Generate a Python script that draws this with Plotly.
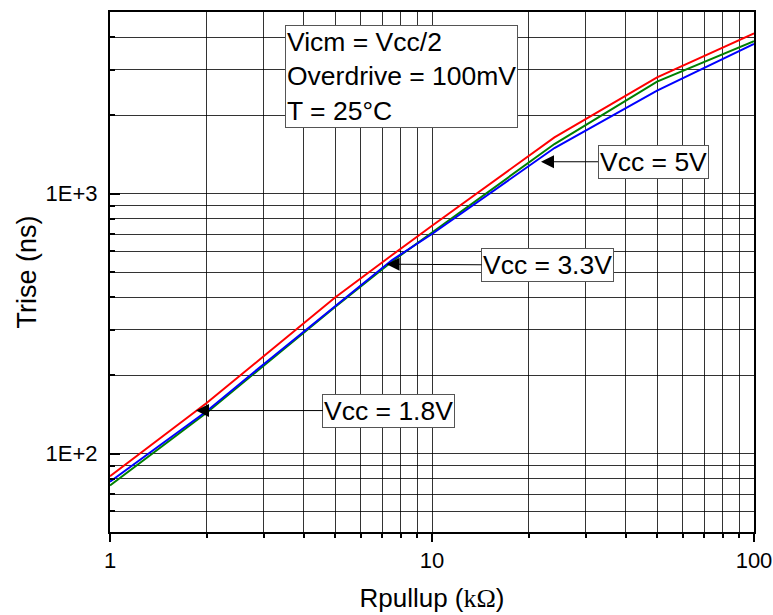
import plotly.graph_objects as go

# Data (Rpullup in kOhm, Trise in ns)
rpullup = [1, 2, 3, 5, 7.5, 10, 24, 50, 100]
trise_18 = [82, 157, 237, 399, 580, 753, 1648, 2805, 4140]   # red
trise_33 = [75.5, 144, 218, 367, 548, 710, 1553, 2698, 3860]  # green
trise_5 = [78, 146, 221, 370, 555, 700, 1499, 2494, 3767]    # blue

series_names = ["Vcc = 1.8V", "Vcc = 3.3V", "Vcc = 5V"]
series_colors = ["#FF0000", "#008000", "#0000FF"]

x_major = [1, 10, 100]
x_major_text = ["1", "10", "100"]
x_minor = [2, 3, 4, 5, 6, 7, 8, 9, 20, 30, 40, 50, 60, 70, 80, 90]
y_major = [100, 1000]
y_major_text = ["1E+2", "1E+3"]
y_minor = [60, 70, 80, 90, 200, 300, 400, 500, 600, 700, 800, 900, 2000, 3000, 4000]

fig = go.Figure()
for name, ys, col in zip(series_names, [trise_18, trise_33, trise_5], series_colors):
    fig.add_trace(go.Scatter(x=rpullup, y=ys, mode="lines", name=name,
                             line=dict(color=col, width=2)))

grid_col = "rgba(0,0,0,0.8)"
font_main = "Liberation Sans, Arial, sans-serif"

fig.update_xaxes(
    type="log", range=[0, 2], automargin=False,
    tickvals=x_major, ticktext=x_major_text,
    ticks="outside", ticklen=8, tickwidth=1.5, tickcolor="black",
    showgrid=True, gridcolor=grid_col, gridwidth=1,
    minor=dict(tickvals=x_minor, ticks="outside", ticklen=4, tickcolor="black",
               showgrid=True, gridcolor=grid_col, gridwidth=1),
    showline=True, linecolor="black", linewidth=2, mirror=True,
    tickfont=dict(size=22, color="black", family=font_main),
    ticklabelstandoff=0,
    title=dict(text="Rpullup (<span style=\"font-family:'Liberation Serif', 'Times New Roman', serif\">kΩ</span>)",
               font=dict(size=26, color="black", family=font_main), standoff=16),
    zeroline=False,
)
fig.update_yaxes(
    type="log", range=[1.69897, 3.69897], automargin=False,
    tickvals=y_major, ticktext=y_major_text,
    ticks="inside", ticklen=10, tickwidth=1.5, tickcolor="black",
    showgrid=True, gridcolor=grid_col, gridwidth=1,
    minor=dict(tickvals=y_minor, ticks="inside", ticklen=5, tickcolor="black",
               showgrid=True, gridcolor=grid_col, gridwidth=1),
    showline=True, linecolor="black", linewidth=2, mirror=True,
    tickfont=dict(size=22, color="black", family=font_main),
    ticklabelstandoff=6,
    title=dict(text="Trise (ns)", font=dict(size=27, color="black", family=font_main), standoff=1),
    zeroline=False,
)

ann_font = dict(size=26.5, color="black", family=font_main)
annotations = [
    dict(xref="paper", yref="paper", x=0.271, y=0.975, xanchor="left", yanchor="top",
         text="Vicm = Vcc/2<br>Overdrive = 100mV<br>T = 25°C", align="left",
         showarrow=False, font=ann_font, bgcolor="white", bordercolor="#555",
         borderwidth=1, borderpad=1),
]
# label, arrow tip (log10 x, log10 y), text offset in px
labels = [
    ("Vcc = 5V", 1.3385, 3.123, 112, 0),
    ("Vcc = 3.3V", 0.859, 2.729, 161, 1),
    ("Vcc = 1.8V", 0.267, 2.166, 193, 0),
]
for txt, lx, ly, ax, ay in labels:
    annotations.append(dict(
        x=lx, y=ly, xref="x", yref="y", text=txt, showarrow=True,
        ax=ax, ay=ay, axref="pixel", ayref="pixel",
        arrowhead=2, arrowsize=2.6, arrowwidth=1, arrowcolor="black",
        font=ann_font, bgcolor="white", bordercolor="#555", borderwidth=1, borderpad=1,
    ))

fig.update_layout(
    width=773, height=615,
    margin=dict(l=110, r=19, t=12, b=83),
    plot_bgcolor="white", paper_bgcolor="white",
    showlegend=False,
    annotations=annotations,
)

# remove the default page margin so the figure sits at the window's top-left corner
fig.write_html("out.html", config={"displayModeBar": False},
               post_script="document.body.style.margin='0';document.body.style.overflow='hidden';")
